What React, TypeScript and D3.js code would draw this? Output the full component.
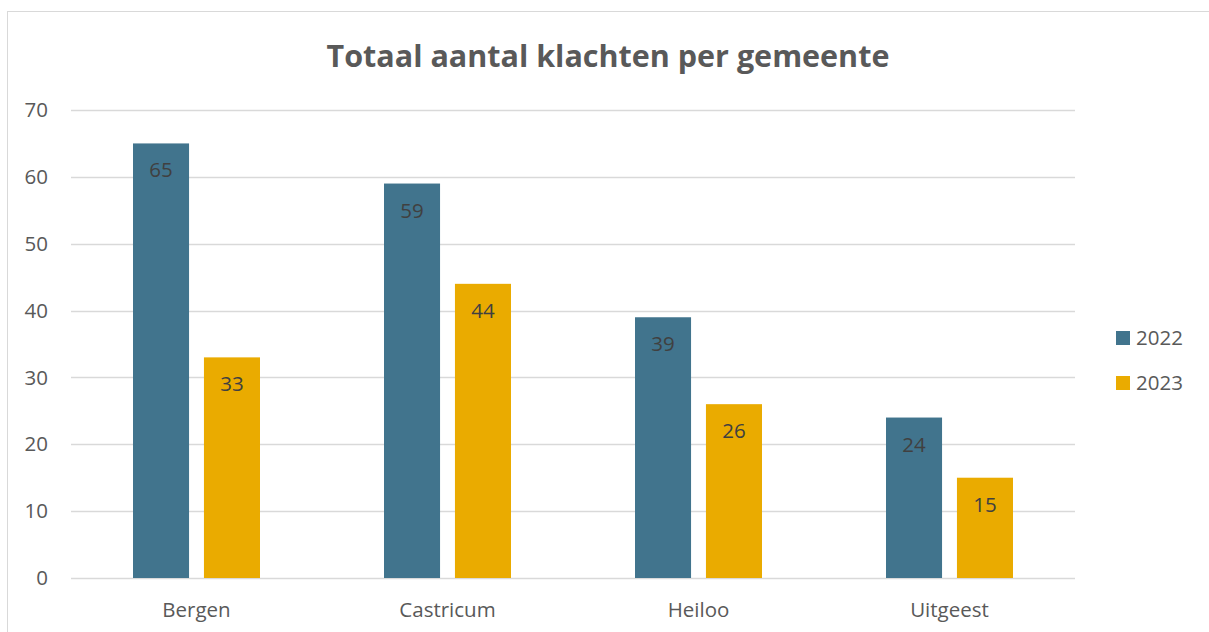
import { useEffect, useRef } from "react";
import * as d3 from "d3";

const gemeenten = ["Bergen", "Castricum", "Heiloo", "Uitgeest"];
const jaren = ["2022", "2023"];
const klachten2022 = [65, 59, 39, 24];
const klachten2023 = [33, 44, 26, 15];
const yTicks = [0, 10, 20, 30, 40, 50, 60, 70];
const kleuren = ["#41748d", "#eaab00"];

const FONT = "'Open Sans', 'Noto Sans', sans-serif";

export default function App() {
  const ref = useRef<SVGSVGElement>(null);

  useEffect(() => {
    const width = 1209;
    const height = 632;
    const margin = { top: 110, right: 134, bottom: 54, left: 71 };

    const svg = d3.select(ref.current).attr("width", width).attr("height", height);
    svg.selectAll("*").remove();

    // chart border
    svg
      .append("rect")
      .attr("x", 7.5)
      .attr("y", 11.5)
      .attr("width", width + 20)
      .attr("height", height + 20)
      .attr("fill", "#fff")
      .attr("stroke", "#d9d9d9");

    svg
      .append("text")
      .attr("x", 608)
      .attr("y", 67)
      .attr("text-anchor", "middle")
      .attr("font-family", FONT)
      .attr("font-size", "30.5px")
      .attr("font-weight", "bold")
      .attr("fill", "#595959")
      .text("Totaal aantal klachten per gemeente");

    const x0 = d3
      .scaleBand()
      .domain(gemeenten)
      .range([margin.left, width - margin.right]);

    const x1 = d3.scaleBand().domain(jaren).range([0, 127]).paddingInner(0.21);

    const y = d3
      .scaleLinear()
      .domain([0, 70])
      .range([height - margin.bottom, margin.top]);

    // gridlines
    svg
      .append("g")
      .selectAll("line")
      .data(yTicks)
      .enter()
      .append("line")
      .attr("x1", margin.left)
      .attr("x2", width - margin.right)
      .attr("y1", (d) => Math.round(y(d)) + 0.5)
      .attr("y2", (d) => Math.round(y(d)) + 0.5)
      .attr("stroke", "#d9d9d9")
      .attr("stroke-width", 1.5);

    svg
      .append("g")
      .selectAll("text")
      .data(yTicks)
      .enter()
      .append("text")
      .attr("x", 48)
      .attr("y", (d) => y(d))
      .attr("dy", "0.35em")
      .attr("text-anchor", "end")
      .attr("font-family", FONT)
      .attr("font-size", "20.5px")
      .attr("fill", "#595959")
      .text((d) => d);

    const rows = gemeenten.map((g, i) => ({
      g,
      waarden: [klachten2022[i], klachten2023[i]],
    }));

    const groups = svg
      .append("g")
      .selectAll("g")
      .data(rows)
      .enter()
      .append("g")
      .attr(
        "transform",
        (d) => `translate(${x0(d.g)! + x0.bandwidth() / 2 - 63.5},0)`
      );

    groups
      .selectAll("rect")
      .data((d) => d.waarden.map((v, j) => ({ jaar: jaren[j], v })))
      .enter()
      .append("rect")
      .attr("x", (d) => x1(d.jaar)!)
      .attr("y", (d) => y(d.v))
      .attr("width", x1.bandwidth())
      .attr("height", (d) => y(0) - y(d.v))
      .attr("fill", (d, j) => kleuren[j]);

    groups
      .selectAll("text")
      .data((d) => d.waarden.map((v, j) => ({ jaar: jaren[j], v })))
      .enter()
      .append("text")
      .attr("x", (d) => x1(d.jaar)! + x1.bandwidth() / 2)
      .attr("y", (d) => y(d.v) + 34)
      .attr("text-anchor", "middle")
      .attr("font-family", FONT)
      .attr("font-size", "20.5px")
      .attr("fill", "#404040")
      .text((d) => d.v);

    svg
      .append("g")
      .selectAll("text")
      .data(gemeenten)
      .enter()
      .append("text")
      .attr("x", (d) => x0(d)! + x0.bandwidth() / 2)
      .attr("y", 617)
      .attr("text-anchor", "middle")
      .attr("font-family", FONT)
      .attr("font-size", "20.5px")
      .attr("fill", "#595959")
      .text((d) => d);

    // legend
    const legend = svg
      .append("g")
      .selectAll("g")
      .data(jaren)
      .enter()
      .append("g")
      .attr("transform", (d, i) => `translate(1116,${331 + i * 45})`);

    legend
      .append("rect")
      .attr("width", 14)
      .attr("height", 14)
      .attr("fill", (d, i) => kleuren[i]);

    legend
      .append("text")
      .attr("x", 20)
      .attr("y", 7)
      .attr("dy", "0.35em")
      .attr("font-family", FONT)
      .attr("font-size", "20.5px")
      .attr("fill", "#595959")
      .text((d) => d);
  }, []);

  return (
    <svg
      ref={ref}
      style={{ position: "absolute", left: 0, top: 0, display: "block" }}
    />
  );
}
